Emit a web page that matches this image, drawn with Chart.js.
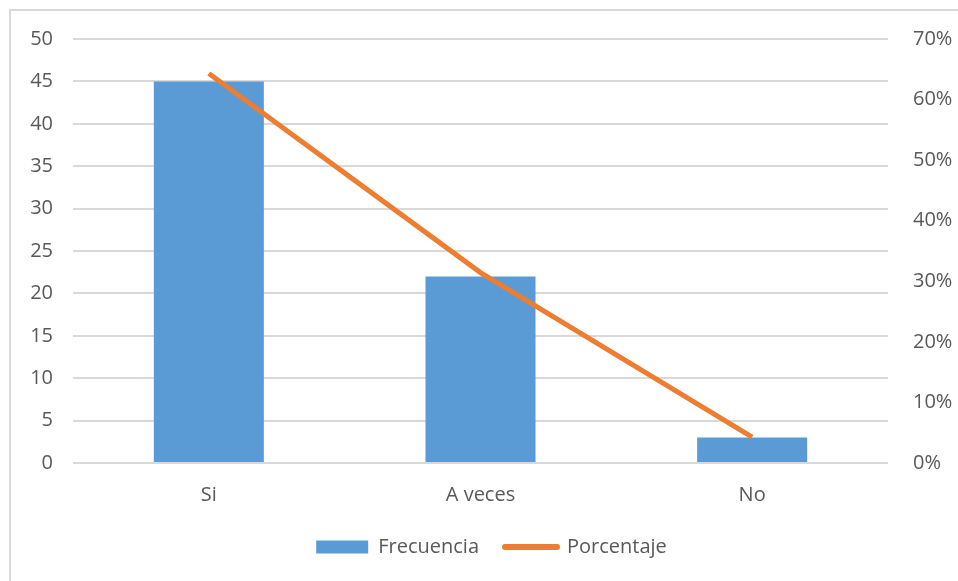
<!DOCTYPE html>
<html>
<head>
<meta charset="utf-8">
<script src="https://cdn.jsdelivr.net/npm/chart.js@4.4.1/dist/chart.umd.min.js"></script>
<style>
  html, body { margin: 0; padding: 0; background: #ffffff; overflow: hidden; }
  #wrap { position: relative; width: 958px; height: 581px; }
  #frame { position: absolute; left: 9px; top: 9px; width: 1000px; height: 700px; border: 2px solid #d9d9d9; box-sizing: border-box; }
  #c { position: absolute; left: 0; top: 0; }
</style>
</head>
<body>
<div id="wrap">
  <div id="frame"></div>
  <canvas id="c" width="958" height="581"></canvas>
</div>
<script>
const categories = ["Si", "A veces", "No"];
const frecuencia = [45, 22, 3];
const porcentaje = [64.29, 31.43, 4.29];
const leftTicks = { min: 0, max: 50, step: 5 };
const rightTicks = { min: 0, max: 70, step: 10 };

const textColor = "#595959";
const gridColor = "#d9d9d9";
const fontFamily = "'Open Sans', sans-serif";

new Chart(document.getElementById("c"), {
  data: {
    labels: categories,
    datasets: [
      {
        type: "line",
        label: "Porcentaje",
        data: porcentaje,
        yAxisID: "y2",
        borderColor: "#ed7d31",
        backgroundColor: "#ed7d31",
        borderWidth: 5,
        pointRadius: 0,
        tension: 0,
        order: 0
      },
      {
        type: "bar",
        label: "Frecuencia",
        data: frecuencia,
        yAxisID: "y",
        backgroundColor: "#5b9bd5",
        barPercentage: 0.405,
        categoryPercentage: 1.0,
        order: 1
      }
    ]
  },
  options: {
    responsive: false,
    animation: false,
    layout: { padding: { left: 25, right: 0, top: 39, bottom: 14 } },
    plugins: {
      tooltip: { enabled: false },
      legend: {
        position: "bottom",
        labels: {
          font: { family: fontFamily, size: 20 },
          color: textColor,
          padding: 26,
          boxWidth: 52,
          boxHeight: 13,
          usePointStyle: true,
          pointStyleWidth: 52,
          sort: (a, b) => (a.text === "Frecuencia" ? -1 : 1),
          generateLabels: (chart) => {
            return chart.data.datasets.map((ds, i) => {
              const isLine = ds.type === "line";
              return {
                text: ds.label,
                datasetIndex: i,
                fillStyle: isLine ? "rgba(0,0,0,0)" : ds.backgroundColor,
                strokeStyle: isLine ? ds.borderColor : ds.backgroundColor,
                lineWidth: isLine ? 6 : 0,
                lineCap: "round",
                pointStyle: isLine ? "line" : "rect",
                fontColor: textColor,
                hidden: false
              };
            });
          }
        }
      }
    },
    scales: {
      x: {
        grid: { display: false, drawTicks: false },
        border: { display: false },
        ticks: { font: { family: fontFamily, size: 20 }, color: textColor, padding: 20 },
        afterFit: (s) => { s.height = 48; }
      },
      y: {
        position: "left",
        min: leftTicks.min,
        max: leftTicks.max,
        grid: { color: gridColor, lineWidth: 2, drawTicks: false },
        border: { display: false },
        ticks: { stepSize: leftTicks.step, font: { family: fontFamily, size: 20 }, color: textColor, padding: 20 },
        afterFit: (s) => { s.width = 48; }
      },
      y2: {
        position: "right",
        min: rightTicks.min,
        max: rightTicks.max,
        grid: { display: false, drawTicks: false },
        border: { display: false },
        ticks: { stepSize: rightTicks.step, font: { family: fontFamily, size: 20 }, color: textColor, padding: 25, callback: (v) => v + "%" },
        afterFit: (s) => { s.width = 70; }
      }
    }
  }
});
</script>
</body>
</html>
